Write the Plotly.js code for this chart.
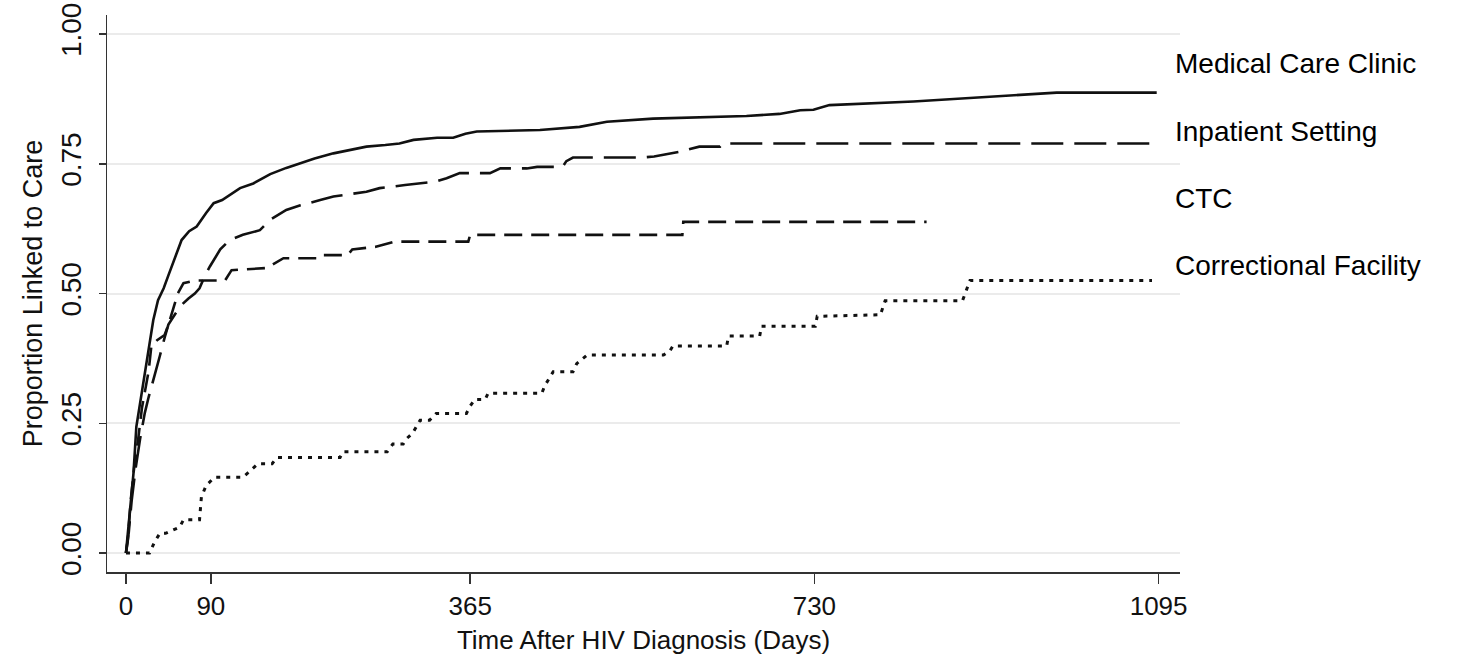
<!DOCTYPE html>
<html>
<head>
<meta charset="utf-8">
<script src="https://cdn.plot.ly/plotly-3.0.1.min.js"></script>
<style>html,body{margin:0;padding:0;background:#fff;}#chart{width:1469px;height:655px;}</style>
</head>
<body>
<div id="chart"></div>
<script>
// Medical Care Clinic (solid)
const medDays = [0,4,8,11,17,24,29,34,40,45,52,59,67,75,85,93,102,110,121,135,153,170,185,200,220,240,255,275,290,305,330,347,360,372,439,481,510,559,658,693,715,729,746,835,912,987,1093];
const medProp = [0,0.07,0.154,0.243,0.314,0.398,0.449,0.487,0.51,0.535,0.57,0.603,0.62,0.629,0.655,0.674,0.68,0.69,0.703,0.712,0.73,0.742,0.751,0.76,0.77,0.777,0.783,0.786,0.789,0.796,0.80,0.80,0.808,0.812,0.815,0.821,0.831,0.837,0.842,0.846,0.853,0.854,0.863,0.87,0.878,0.887,0.887];

// Inpatient Setting (long dash)
const inpDays = [0,3,6,10,15,20,24,31,36,41,45,52,59,66,73,78,84,89,95,100,110,124,142,153,170,185,206,220,255,269,296,329,340,354,386,397,425,436,463,467,474,547,560,587,608,630,633,1088];
const inpProp = [0,0.04,0.1,0.16,0.22,0.27,0.30,0.35,0.38,0.415,0.44,0.46,0.478,0.49,0.50,0.51,0.535,0.552,0.57,0.585,0.603,0.613,0.622,0.642,0.661,0.67,0.68,0.687,0.696,0.703,0.709,0.716,0.722,0.732,0.732,0.741,0.741,0.744,0.744,0.755,0.762,0.762,0.764,0.773,0.783,0.783,0.789,0.789];

// CTC (medium dash)
const ctcDays = [0,2,5,9,13,17,20,24,27,33,41,45,50,55,61,73,105,112,149,160,167,206,209,235,240,265,285,363,365,590,591,849];
const ctcProp = [0,0.025,0.1,0.17,0.22,0.28,0.31,0.35,0.40,0.41,0.42,0.44,0.47,0.50,0.52,0.525,0.525,0.545,0.549,0.56,0.568,0.568,0.574,0.574,0.585,0.59,0.60,0.60,0.613,0.613,0.638,0.638];

// Correctional Facility (dotted)
const corDays = [0,25,30,36,42,50,57,61,78,80,85,94,124,131,140,155,160,227,230,277,283,294,298,304,312,322,329,361,365,370,381,384,441,444,448,453,474,478,489,570,577,580,637,639,672,674,731,733,800,803,805,887,895,1088];
const corProp = [0,0,0.02,0.038,0.038,0.045,0.05,0.064,0.064,0.108,0.13,0.146,0.146,0.157,0.172,0.172,0.184,0.184,0.195,0.195,0.21,0.21,0.221,0.231,0.256,0.256,0.269,0.269,0.283,0.296,0.296,0.308,0.308,0.322,0.335,0.349,0.349,0.365,0.3815,0.3815,0.39,0.399,0.399,0.418,0.418,0.437,0.437,0.456,0.459,0.475,0.486,0.486,0.525,0.525];

const seriesNames = ["Medical Care Clinic","Inpatient Setting","CTC","Correctional Facility"];
const labelY = [0.944,0.813,0.684,0.553];
const xTicks = [0,90,365,730,1095];
const yTicks = [0,0.25,0.5,0.75,1];
const yTickText = ["0.00","0.25","0.50","0.75","1.00"];

const ink = "#111111";
const traces = [
  {x: medDays, y: medProp, mode: "lines", line: {color: ink, width: 2.6}},
  {x: inpDays, y: inpProp, mode: "lines", line: {color: ink, width: 2.6, dash: "32px,11px"}},
  {x: ctcDays, y: ctcProp, mode: "lines", line: {color: ink, width: 2.6, dash: "18px,9px"}},
  {x: corDays, y: corProp, mode: "lines", line: {color: ink, width: 3, dash: "4px,6px"}}
].map((t, i) => Object.assign(t, {name: seriesNames[i], showlegend: false, hoverinfo: "skip"}));

const font = "Liberation Sans, Arial, Helvetica, sans-serif";
const annotations = seriesNames.map((n, i) => ({
  text: n, x: 1110, y: labelY[i], xref: "x", yref: "y",
  xanchor: "left", yanchor: "middle", showarrow: false,
  font: {family: font, size: 28, color: "#000"}
}));

const layout = {
  width: 1469, height: 655,
  margin: {l: 107, r: 289, t: 15, b: 83, pad: 0},
  paper_bgcolor: "#fff", plot_bgcolor: "#fff",
  showlegend: false,
  font: {family: font, color: "#111"},
  xaxis: {
    range: [-20.1, 1117.7], tickvals: xTicks, ticktext: xTicks.map(String),
    showgrid: false, zeroline: false,
    showline: true, linecolor: "#333", linewidth: 1.5,
    ticks: "outside", ticklen: 10, tickwidth: 1.5, tickcolor: "#333",
    tickfont: {size: 26, family: font, color: "#111"},
    ticklabelstandoff: 0,
    title: {text: "Time After HIV Diagnosis (Days)", font: {size: 26, family: font, color: "#111"}, standoff: 12}
  },
  yaxis: {
    range: [-0.0366, 1.0366], tickvals: yTicks, ticktext: yTickText,
    showgrid: true, gridcolor: "#ebebeb", gridwidth: 2, zeroline: false,
    showline: true, linecolor: "#333", linewidth: 1.5,
    ticks: "outside", ticklen: 7, tickwidth: 1.5, tickcolor: "#333",
    tickangle: -90,
    tickfont: {size: 28, family: font, color: "#111"},
    ticklabelstandoff: 6,
    title: {text: "Proportion Linked to Care", font: {size: 27, family: font, color: "#111"}, standoff: 6}
  },
  annotations: annotations
};

Plotly.newPlot("chart", traces, layout, {staticPlot: true, displayModeBar: false});
</script>
</body>
</html>
